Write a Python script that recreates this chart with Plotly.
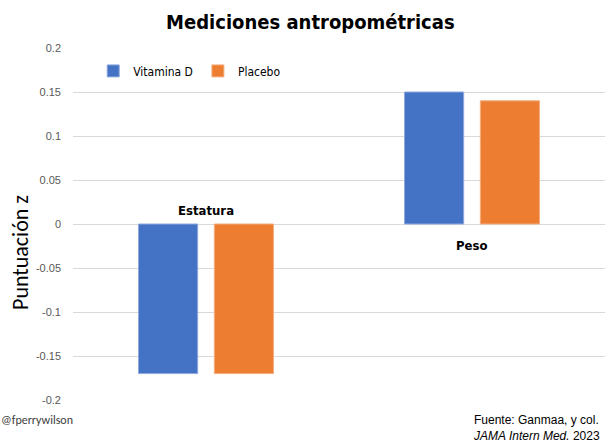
import plotly.graph_objects as go

categories = ["Estatura", "Peso"]
vitamina_d = [-0.17, 0.15]
placebo = [-0.17, 0.14]
y_ticks = [-0.2, -0.15, -0.1, -0.05, 0, 0.05, 0.1, 0.15, 0.2]
y_tick_labels = ["-0.2", "-0.15", "-0.1", "-0.05", "0", "0.05", "0.1", "0.15", "0.2"]

BLUE = "#4472C4"
ORANGE = "#ED7D31"
NARROW = "DejaVu Sans Condensed, Liberation Sans Narrow, sans-serif"

fig = go.Figure()
fig.add_trace(go.Bar(x=categories, y=vitamina_d, name="Vitamina D",
                     marker=dict(color=BLUE, line=dict(color="#8fa9dd", width=1))))
fig.add_trace(go.Bar(x=categories, y=placebo, name="Placebo",
                     marker=dict(color=ORANGE, line=dict(color="#f3ad80", width=1))))

fig.update_layout(
    width=605, height=442,
    margin=dict(l=73, r=0, t=48, b=42),
    paper_bgcolor="white", plot_bgcolor="white",
    barmode="group", bargap=0.43, bargroupgap=0.22,
    title=dict(text="<b>Mediciones antropométricas</b>", x=0.513, xanchor="center",
               y=0.95, yanchor="middle",
               font=dict(family=NARROW, size=20, color="black")),
    legend=dict(orientation="h", x=0.038, y=0.935, xanchor="left", yanchor="middle",
                font=dict(family=NARROW, size=12, color="black"),
                bgcolor="rgba(0,0,0,0)", itemwidth=30, traceorder="normal"),
    showlegend=True,
)
fig.update_xaxes(showticklabels=False, showgrid=False, zeroline=False, showline=False)
fig.update_yaxes(range=[-0.2, 0.2], tickvals=y_ticks, ticktext=y_tick_labels,
                 showgrid=True, gridcolor="#d9d9d9", gridwidth=1,
                 zeroline=True, zerolinecolor="#d9d9d9", zerolinewidth=1,
                 showline=False, ticks="", ticklabelstandoff=11,
                 tickfont=dict(family="Liberation Sans, Arial, sans-serif", size=11, color="#595959"))

# category labels near the zero line
for cat, v in zip(categories, vitamina_d):
    fig.add_annotation(x=cat, y=0, xref="x", yref="y", text="<b>" + cat + "</b>", showarrow=False,
                       yanchor="bottom" if v < 0 else "top",
                       yshift=4 if v < 0 else -12,
                       font=dict(family=NARROW, size=13, color="black"))

fig.add_annotation(text="Puntuación z", xref="paper", yref="paper", x=-0.1, y=0.42,
                   xanchor="center", yanchor="middle", textangle=-90, showarrow=False,
                   font=dict(family="Carlito, Liberation Sans, Arial, sans-serif", size=22, color="black"))
fig.add_annotation(text="@fperrywilson", xref="paper", yref="paper", x=-0.139, y=-0.058,
                   xanchor="left", yanchor="middle", showarrow=False,
                   font=dict(family="Carlito, Liberation Sans, sans-serif", size=12, color="#404040"))
fig.add_annotation(text="Fuente: Ganmaa, y col.<br><i>JAMA Intern Med.</i> 2023", xref="paper", yref="paper",
                   x=0.748, y=-0.03, xanchor="left", yanchor="top", align="left", showarrow=False,
                   font=dict(family="Liberation Sans, Arial, sans-serif", size=12, color="black"))

fig.write_html("out.html")
